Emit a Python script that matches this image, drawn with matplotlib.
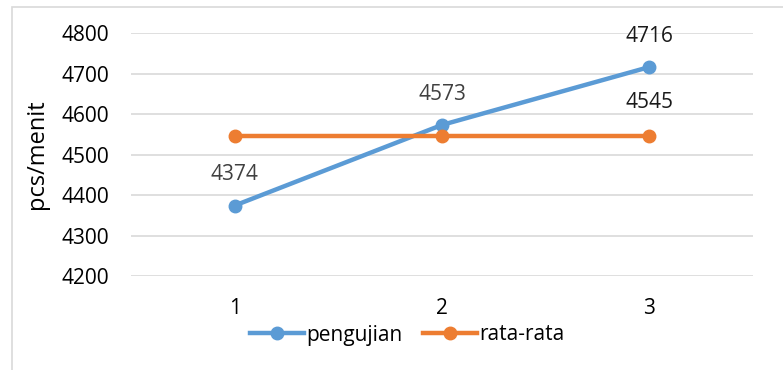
import matplotlib.pyplot as plt
from matplotlib.lines import Line2D
from matplotlib.patches import Rectangle

plt.rcParams["font.family"] = ["Open Sans", "DejaVu Sans"]

# Data
trials = ["1", "2", "3"]
pengujian = [4374, 4573, 4716]
rata_rata = [4545, 4545, 4545]
yticks = [4200, 4300, 4400, 4500, 4600, 4700, 4800]

blue = "#5B9BD5"
orange = "#ED7D31"
fs = 15

fig = plt.figure(figsize=(7.83, 3.70), dpi=100)
W, H = 783, 370

# chart frame (only top and left edges fall inside the image)
fig.patches.append(Rectangle((12 / W, -0.2), 1.2, 1.2 - 7 / H, transform=fig.transFigure,
                             fill=False, edgecolor="#D9D9D9", linewidth=1.2))

ax = fig.add_axes([131 / W, 1 - 276 / H, (753 - 131) / W, (276 - 33) / H])

x = list(range(len(trials)))
ax.plot(x, pengujian, color=blue, linewidth=3.2, marker="o", markersize=9,
        solid_capstyle="round", label="pengujian", zorder=3)
ax.plot(x, rata_rata, color=orange, linewidth=3.2, marker="o", markersize=9,
        solid_capstyle="round", label="rata-rata", zorder=3)

# data labels
for i, v in enumerate(pengujian):
    ax.annotate(str(v), (x[i], v), xytext=(0, 22), textcoords="offset points",
                ha="center", va="center", fontsize=fs,
                color="#404040" if i < 2 else "#1a1a1a")
ax.annotate(str(rata_rata[-1]), (x[-1], rata_rata[-1]), xytext=(0, 24),
            textcoords="offset points", ha="center", va="center",
            fontsize=fs, color="#1a1a1a")

ax.set_xlim(-0.5, 2.5)
ax.set_ylim(4200, 4800)
ax.set_yticks(yticks)
ax.set_xticks(x)
ax.set_xticklabels(trials)
ax.tick_params(axis="both", length=0, labelsize=fs, colors="#000000")
ax.tick_params(axis="y", pad=16)
ax.tick_params(axis="x", pad=16)
ax.grid(axis="y", color="#D9D9D9", linewidth=1.2)
ax.set_axisbelow(True)
for s in ax.spines.values():
    s.set_visible(False)

ax.set_ylabel("pcs/menit", fontsize=17)
ax.yaxis.set_label_coords(-(131 - 49) / (753 - 131), 0.5)

handles = [Line2D([], [], color=blue, linewidth=3.2, marker="o", markersize=9),
           Line2D([], [], color=orange, linewidth=3.2, marker="o", markersize=9)]
fig.legend(handles, ["pengujian", "rata-rata"], loc="center",
           bbox_to_anchor=(407 / W, 1 - 335 / H), ncol=2, frameon=False,
           fontsize=fs, handlelength=2.6, handletextpad=0.1, columnspacing=1.0)

fig.savefig("out.png", dpi=100)
